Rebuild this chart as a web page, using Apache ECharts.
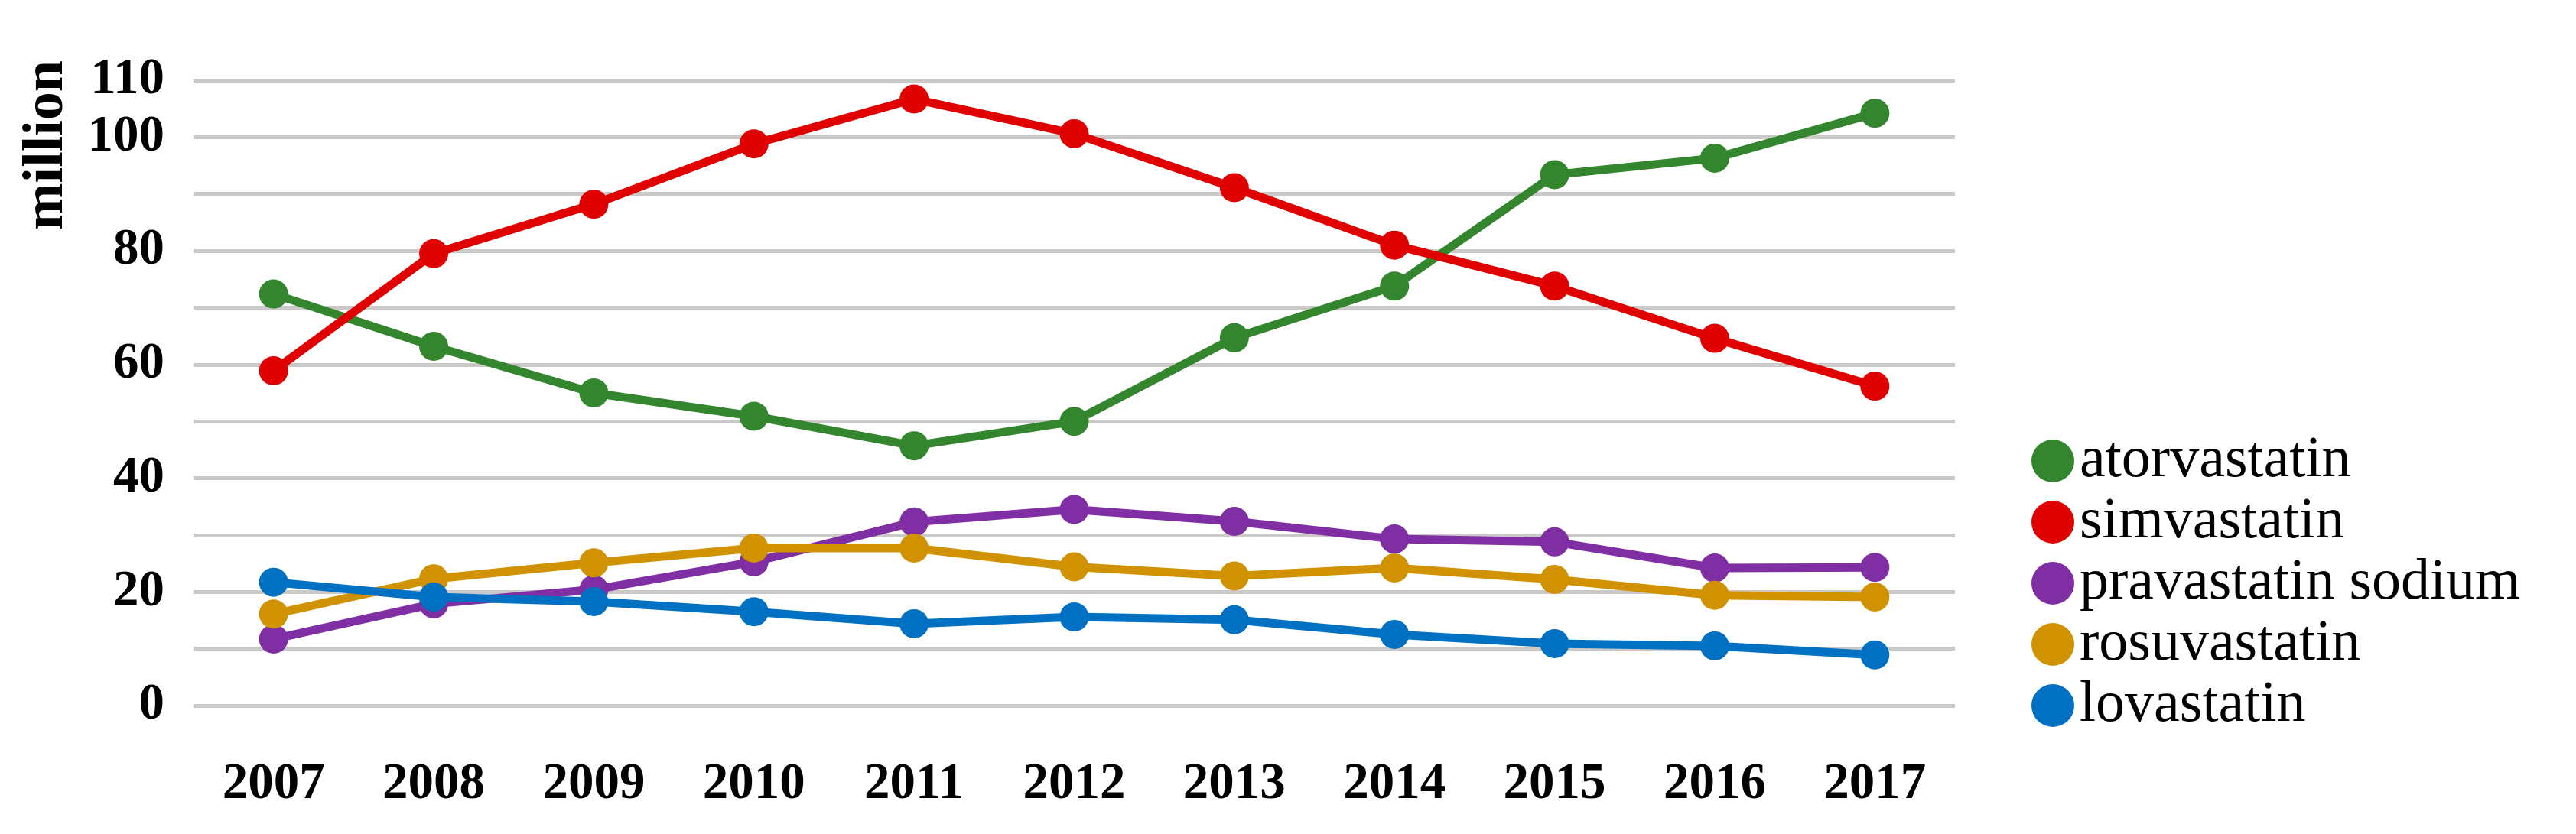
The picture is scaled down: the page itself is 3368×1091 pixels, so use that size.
<!DOCTYPE html>
<html>
<head>
<meta charset="utf-8">
<script src="https://cdn.jsdelivr.net/npm/echarts@6/dist/echarts.min.js"></script>
<style>
html,body{margin:0;padding:0;background:#fff;}
#chart{width:3368px;height:1091px;}
</style>
</head>
<body>
<div id="chart"></div>
<script>
var years = ['2007','2008','2009','2010','2011','2012','2013','2014','2015','2016','2017'];
var atorvastatin = [72.4, 63.2, 55.0, 50.9, 45.7, 50.0, 64.7, 73.8, 93.4, 96.3, 104.2];
var simvastatin = [58.9, 79.5, 88.2, 98.8, 106.7, 100.6, 91.1, 81.0, 73.8, 64.6, 56.2];
var pravastatinSodium = [11.7, 17.9, 20.4, 25.3, 32.3, 34.5, 32.4, 29.3, 28.8, 24.2, 24.3];
var rosuvastatin = [16.1, 22.3, 25.1, 27.7, 27.7, 24.4, 22.8, 24.2, 22.2, 19.4, 19.1];
var lovastatin = [21.7, 19.1, 18.3, 16.5, 14.4, 15.6, 15.1, 12.5, 10.9, 10.5, 8.9];
var yTickLabels = [0, 20, 40, 60, 80, 100, 110];
var seriesNames = ['atorvastatin','simvastatin','pravastatin sodium','rosuvastatin','lovastatin'];
var seriesColors = ['#33862d','#e00000','#7f2ea3','#d09200','#0071c2'];
var seriesData = [atorvastatin, simvastatin, pravastatinSodium, rosuvastatin, lovastatin];

var chart = echarts.init(document.getElementById('chart'));
var serif = '"Liberation Serif", "Times New Roman", serif';
chart.setOption({
  backgroundColor: '#ffffff',
  animation: false,
  grid: { left: 253, right: 812, top: 105, bottom: 168 },
  legend: {
    orient: 'vertical',
    left: 2651,
    top: 560,
    icon: 'circle',
    itemWidth: 56,
    itemHeight: 56,
    itemGap: 4,
    data: seriesNames,
    textStyle: { fontFamily: serif, fontSize: 76, color: '#000', lineHeight: 76, padding: [0,0,0,2] }
  },
  graphic: [{
    type: 'text',
    x: 62, y: 190,
    rotation: Math.PI / 2,
    style: {
      text: 'million',
      fontFamily: serif, fontWeight: 'bold', fontSize: 74,
      fill: '#000', align: 'center', verticalAlign: 'middle'
    }
  }],
  xAxis: {
    type: 'category',
    data: years,
    boundaryGap: true,
    axisLine: { show: false },
    axisTick: { show: false },
    axisLabel: { margin: 70, fontFamily: serif, fontWeight: 'bold', fontSize: 67, color: '#000' }
  },
  yAxis: {
    type: 'value',
    min: 0, max: 110, interval: 10,
    axisLine: { show: false },
    axisTick: { show: false },
    splitLine: { lineStyle: { color: '#cbc9c7', width: 5 } },
    axisLabel: {
      margin: 38, fontFamily: serif, fontWeight: 'bold', fontSize: 67, color: '#000',
      formatter: function (v) { return yTickLabels.indexOf(v) >= 0 ? String(v) : ''; }
    }
  },
  series: seriesNames.map(function (n, i) {
    return {
      name: n, type: 'line', data: seriesData[i],
      symbol: 'circle', symbolSize: 38,
      itemStyle: { color: seriesColors[i] },
      lineStyle: { color: seriesColors[i], width: 11 }
    };
  })
});
</script>
</body>
</html>
